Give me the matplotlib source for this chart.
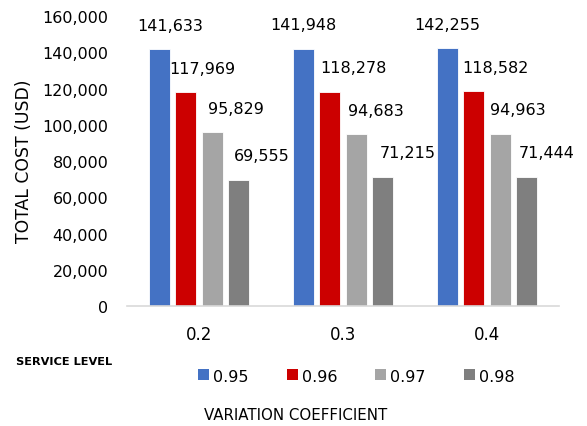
import numpy as np
import matplotlib
matplotlib.use('Agg')
import matplotlib.pyplot as plt
from matplotlib.ticker import FuncFormatter
from matplotlib.patches import Patch

# data ------------------------------------------------------------------
coefficients = ['0.2', '0.3', '0.4']
service_levels = ['0.95', '0.96', '0.97', '0.98']
cost_095 = [141633, 141948, 142255]
cost_096 = [117969, 118278, 118582]
cost_097 = [95829, 94683, 94963]
cost_098 = [69555, 71215, 71444]
colors = ['#4472C4', '#CC0000', '#A5A5A5', '#7F7F7F']

# label nudges (pixels to the right of bar centre), as dragged in the original
LABEL_DX_PX = [[11, 0, 0], [16, 24, 22], [24, 20, 18], [23, 25, 20]]
PX = 72.0 / 100  # points per pixel at dpi 100

plt.rcParams['font.family'] = 'DejaVu Sans'

fig = plt.figure(figsize=(5.87, 4.27), dpi=100)
ax = fig.add_axes([0.2164, 0.281, 0.7359, 0.679])

series = [cost_095, cost_096, cost_097, cost_098]
x = np.arange(len(coefficients))
width = 0.146
step = 0.183
for i, vals in enumerate(series):
    pos = x + (i - 1.5) * step
    ax.bar(pos, vals, width, color=colors[i], edgecolor='white', linewidth=0.6, zorder=2)
    for j, (p, v) in enumerate(zip(pos, vals)):
        ax.annotate('{:,}'.format(v), (p, v), xytext=(LABEL_DX_PX[i][j] * PX, 24 * PX),
                    textcoords='offset points', ha='center', va='center',
                    fontsize=11.5, color='#000000')

ax.set_ylim(0, 160000)
ax.set_xlim(-0.5, 2.5)
ax.set_yticks(np.arange(0, 160001, 20000))
ax.yaxis.set_major_formatter(FuncFormatter(lambda v, p: '{:,}'.format(int(v))))
ax.set_xticks(x)
ax.set_xticklabels(coefficients)
ax.tick_params(axis='y', length=0, pad=13.5, labelsize=11.5)
ax.tick_params(axis='x', length=0, pad=14, labelsize=12)
for s in ['top', 'right', 'left']:
    ax.spines[s].set_visible(False)
ax.spines['bottom'].set_color('#D9D9D9')
ax.spines['bottom'].set_linewidth(1.2)

fig.text(0.041, 0.623, 'TOTAL COST (USD)', rotation=90, ha='center', va='center', fontsize=12.4)
fig.text(0.028, 0.152, 'SERVICE LEVEL', ha='left', va='center', fontsize=8.2, fontweight='bold')
fig.text(0.504, 0.026, 'VARIATION COEFFICIENT', ha='center', va='center', fontsize=10.8)

handles = [Patch(facecolor=c, edgecolor='none') for c in colors]
fig.legend(handles, service_levels, loc='center', bbox_to_anchor=(0.607, 0.117), ncol=4,
           frameon=False, fontsize=11.5, handlelength=0.69, handleheight=0.69,
           handletextpad=0.25, columnspacing=2.4)

fig.savefig('out.png', dpi=100)
